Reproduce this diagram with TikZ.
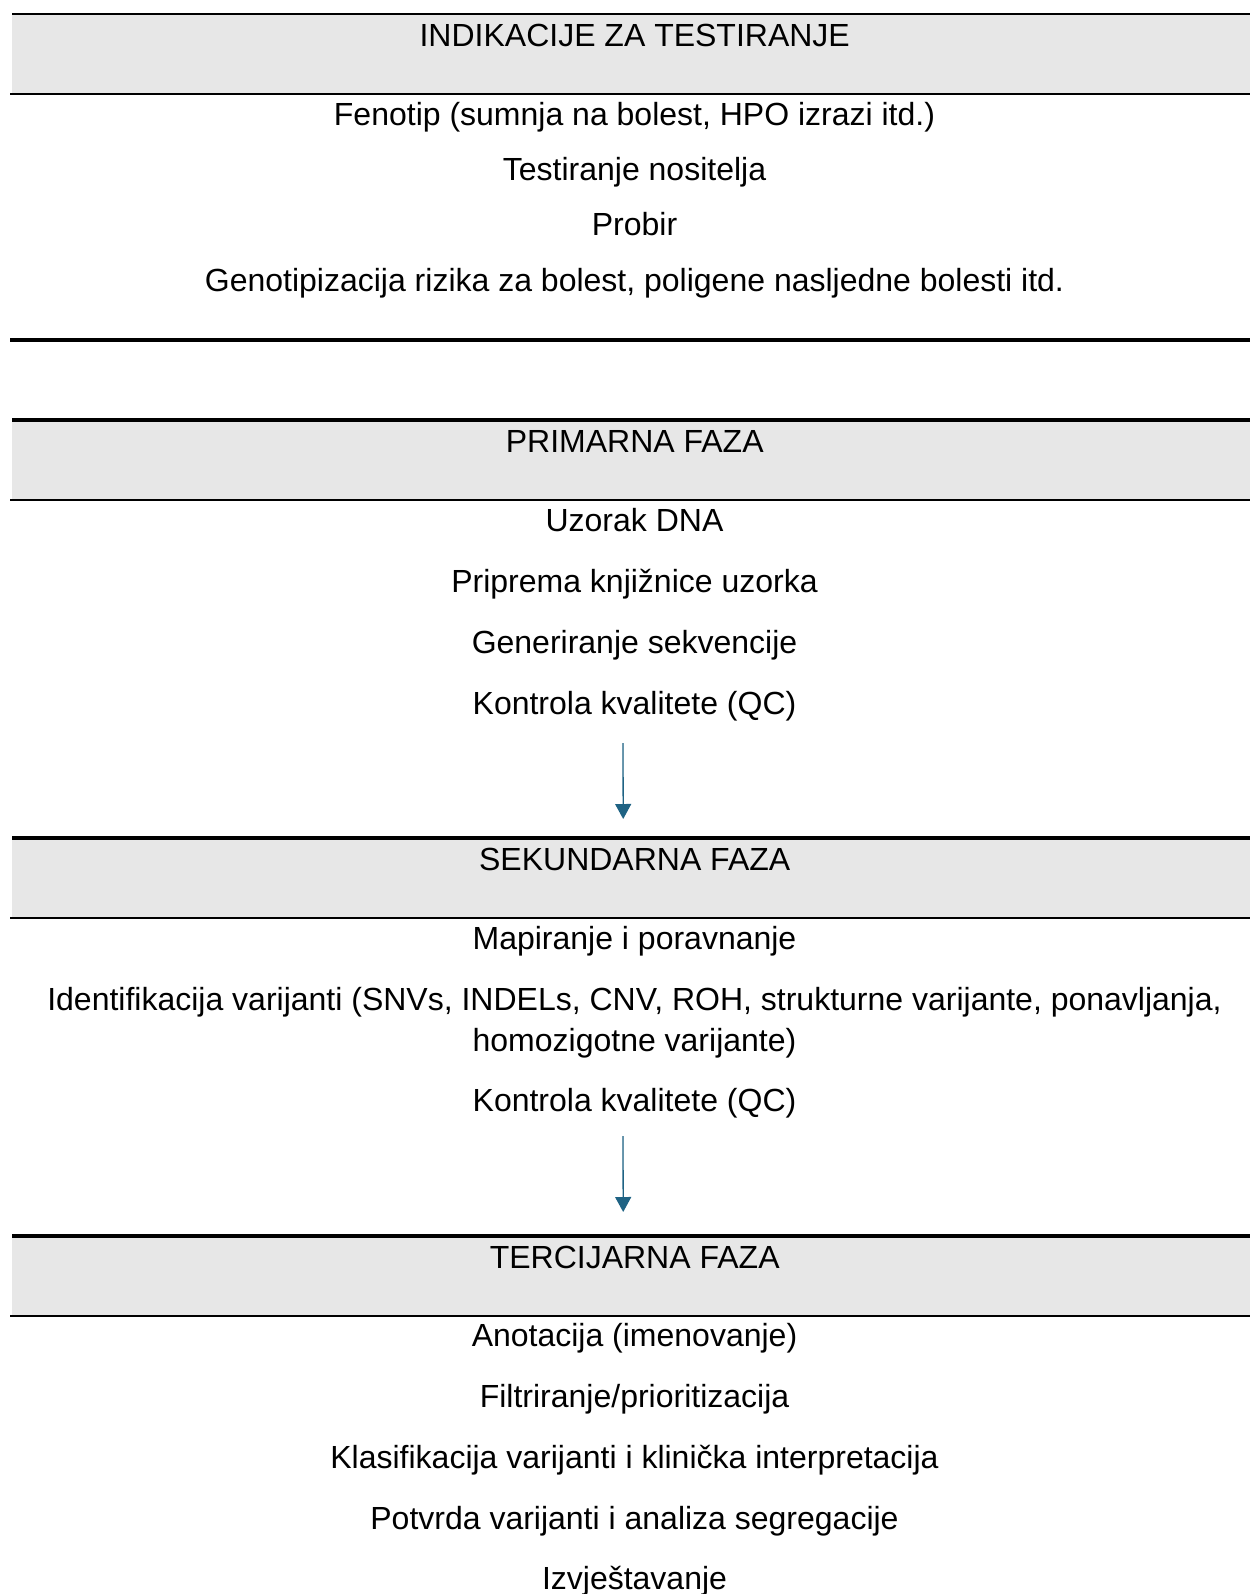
\documentclass[tikz,border=0pt]{standalone}
\usepackage{fontspec}
\setmainfont{Liberation Sans}
\usepackage{tikz}
\usetikzlibrary{arrows.meta,positioning}

\definecolor{bandgray}{HTML}{E7E7E7}
\definecolor{arrblue}{HTML}{1F6384}

\begin{document}
\begin{tikzpicture}[
  x=1pt, y=-1pt,
  font=\fontsize{32}{41}\selectfont,
  band/.style={rectangle, fill=bandgray, anchor=north west, inner sep=0pt,
               minimum width=1245pt, minimum height=80pt,
               text height=32.7pt, text depth=47.3pt},
  item/.style={anchor=base, inner sep=0pt, align=center},
  rule/.style={line width=2pt},
  toprule/.style={line width=4pt},
  arr/.style={-{Triangle[length=15pt, width=16pt]}, line width=1.3pt,
              draw=arrblue, fill=arrblue}
]
  \useasboundingbox (0,0) rectangle (1249,1594);

  \node[band] (ind) at (12,14) {INDIKACIJE ZA TESTIRANJE};
  \node[item] (fen) at (634.5,126) {Fenotip (sumnja na bolest, HPO izrazi itd.)};
  \node[item] (nos) at (634.5,181) {Testiranje nositelja};
  \node[item] (pro) at (634.5,236) {Probir};
  \node[item] (gen) at (634.5,291) {Genotipizacija rizika za bolest, poligene nasljedne bolesti itd.};

  \node[band] (prim) at (12,420) {PRIMARNA FAZA};
  \node[item] (uzo) at (634.5,531) {Uzorak DNA};
  \node[item] (pri) at (634.5,592) {Priprema knjižnice uzorka};
  \node[item] (sekv) at (634.5,653) {Generiranje sekvencije};
  \node[item] (qc1) at (634.5,714) {Kontrola kvalitete (QC)};

  \node[band] (sek) at (12,838) {SEKUNDARNA FAZA};
  \node[item] (map) at (634.5,949) {Mapiranje i poravnanje};
  \node[item] (ide) at (634.5,1051) {Identifikacija varijanti (SNVs, INDELs, CNV, ROH, strukturne varijante, ponavljanja,\\ homozigotne varijante)};
  \node[item] (qc2) at (634.5,1111) {Kontrola kvalitete (QC)};

  \node[band] (ter) at (12,1236) {TERCIJARNA FAZA};
  \node[item] (ano) at (634.5,1346) {Anotacija (imenovanje)};
  \node[item] (fil) at (634.5,1407) {Filtriranje/prioritizacija};
  \node[item] (kla) at (634.5,1468) {Klasifikacija varijanti i klinička interpretacija};
  \node[item] (pot) at (634.5,1529) {Potvrda varijanti i analiza segregacije};
  \node[item] (izv) at (634.5,1589) {Izvještavanje};

  \draw[line width=2.5pt] (ind.north west) -- (ind.north east);
  \draw[rule] ([xshift=-2pt]ind.south west) -- (ind.south east);
  \draw[toprule] (10,340) -- (1257,340);
  \foreach \b in {prim,sek,ter} {
    \draw[toprule] (\b.north west) -- (\b.north east);
    \draw[rule] ([xshift=-2pt]\b.south west) -- (\b.south east);
  }

  \draw[arr] ([xshift=-11.5pt, yshift=-29pt]qc1.base) -- ([xshift=-11.5pt, yshift=19pt]sek.north);
  \draw[arr] ([xshift=-11.5pt, yshift=-25pt]qc2.base) -- ([xshift=-11.5pt, yshift=24pt]ter.north);
\end{tikzpicture}
\end{document}
